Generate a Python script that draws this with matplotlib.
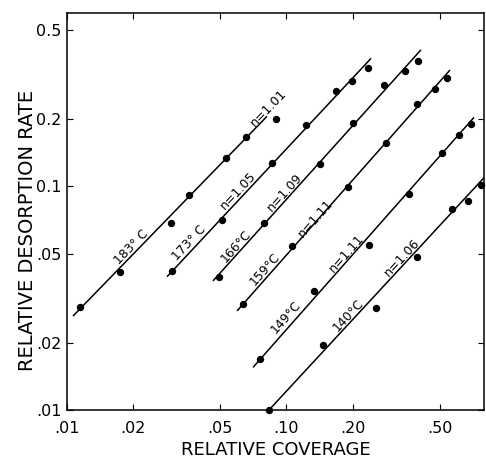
"""Desorption rate vs coverage, log-log, with order-n fits per temperature."""
import numpy as np
import matplotlib
matplotlib.use('Agg')
import matplotlib.pyplot as plt
import matplotlib.ticker as mticker

# fit parameters for each isotherm: rate = k * (cov / 0.10) ** n
temps = ['183° C', '173° C', '166°C', '159°C', '149°C', '140°C']
orders = [1.01, 1.05, 1.09, 1.11, 1.11, 1.06]
rate_at_010 = [0.2525, 0.147, 0.0875, 0.0493, 0.0229, 0.01215]
fit_lo = [0.01065, 0.02855, 0.04624, 0.05953, 0.0704, 0.0832]
fit_hi = [0.0815, 0.2427, 0.410, 0.5558, 0.7148, 0.794]

# measured points
cov_183 = [0.01146, 0.01744, 0.02977, 0.03596, 0.0530, 0.0654, 0.0896]
rate_183 = [0.0289, 0.0414, 0.0686, 0.0915, 0.1338, 0.1661, 0.200]
cov_173 = [0.0301, 0.0508, 0.0859, 0.1227, 0.168, 0.1988, 0.2351]
rate_173 = [0.0418, 0.0707, 0.1271, 0.188, 0.2667, 0.2956, 0.338]
cov_166 = [0.0493, 0.0790, 0.1421, 0.2009, 0.2781, 0.3467, 0.3972]
rate_166 = [0.0393, 0.0686, 0.1258, 0.1919, 0.2838, 0.3277, 0.3632]
cov_159 = [0.0634, 0.1059, 0.1906, 0.2840, 0.3931, 0.4749, 0.5385]
rate_159 = [0.0298, 0.0541, 0.0993, 0.1561, 0.2333, 0.2722, 0.3049]
cov_149 = [0.0757, 0.1335, 0.2376, 0.3614, 0.511, 0.6107, 0.6927]
rate_149 = [0.0169, 0.0340, 0.0547, 0.0924, 0.1409, 0.1696, 0.1898]
cov_140 = [0.0832, 0.1467, 0.2557, 0.3931, 0.5675, 0.6713, 0.7693]
rate_140 = [0.0100, 0.0195, 0.0286, 0.0483, 0.0791, 0.0859, 0.1013]

covs = [cov_183, cov_173, cov_166, cov_159, cov_149, cov_140]
rates = [rate_183, rate_173, rate_166, rate_159, rate_149, rate_140]

xticks = [0.01, 0.02, 0.05, 0.1, 0.2, 0.5]
xticklabels = ['.01', '.02', '.05', '.10', '.20', '.50']
yticks = [0.01, 0.02, 0.05, 0.1, 0.2, 0.5]
yticklabels = ['.01', '.02', '.05', '0.1', '0.2', '0.5']

# where the temperature / order labels sit (data coords)
temp_pos = [(0.01957, 0.0535), (0.0360, 0.0558), (0.0589, 0.0541),
            (0.0798, 0.0427), (0.0995, 0.0260), (0.1906, 0.0266)]
n_pos = [(0.0824, 0.2239), (0.0601, 0.0953), (0.0984, 0.0943),
         (0.1363, 0.0722), (0.1886, 0.0503), (0.3359, 0.0478)]

fig = plt.figure(figsize=(4.86, 4.59), dpi=100)
ax = fig.add_axes([67/486, 49/459, 417/486, 397/459])
ax.set_xscale('log')
ax.set_yscale('log')
ax.set_xlim(0.01, 0.794)
ax.set_ylim(0.01, 0.595)

for i in range(len(temps)):
    xs = np.geomspace(fit_lo[i], fit_hi[i], 50)
    ys = rate_at_010[i] * (xs / 0.1) ** orders[i]
    ax.plot(xs, ys, color='black', lw=1.1, solid_capstyle='butt')
    ax.plot(covs[i], rates[i], 'o', color='black', ms=4.3, clip_on=False)

# rotate labels to follow each fit line on screen
for i in range(len(temps)):
    p = ax.transData.transform([(0.1, rate_at_010[i]),
                                (0.2, rate_at_010[i] * 2 ** orders[i])])
    ang = np.degrees(np.arctan2(p[1, 1] - p[0, 1], p[1, 0] - p[0, 0]))
    ax.text(*temp_pos[i], temps[i], rotation=ang, rotation_mode='anchor',
            ha='center', va='center', fontsize=9)
    ax.text(*n_pos[i], f'n={orders[i]:.2f}', rotation=ang, rotation_mode='anchor',
            ha='center', va='center', fontsize=9)

ax.xaxis.set_major_locator(mticker.FixedLocator(xticks))
ax.xaxis.set_major_formatter(mticker.FixedFormatter(xticklabels))
ax.yaxis.set_major_locator(mticker.FixedLocator(yticks))
ax.yaxis.set_major_formatter(mticker.FixedFormatter(yticklabels))
ax.xaxis.set_minor_locator(mticker.NullLocator())
ax.yaxis.set_minor_locator(mticker.NullLocator())
ax.tick_params(which='major', direction='in', top=True, right=True,
               length=4, width=0.8, labelsize=11.5)
ax.tick_params(axis='x', pad=8)
ax.tick_params(axis='y', pad=4)
for s in ax.spines.values():
    s.set_linewidth(1.1)

fig.text(276/486, 1 - 450/459, 'RELATIVE COVERAGE', ha='center', va='center', fontsize=13)
fig.text(28/486, 1 - 230/459, 'RELATIVE DESORPTION RATE', ha='center', va='center',
         rotation=90, fontsize=14)

fig.savefig('out.png', dpi=100)
plt.close()
